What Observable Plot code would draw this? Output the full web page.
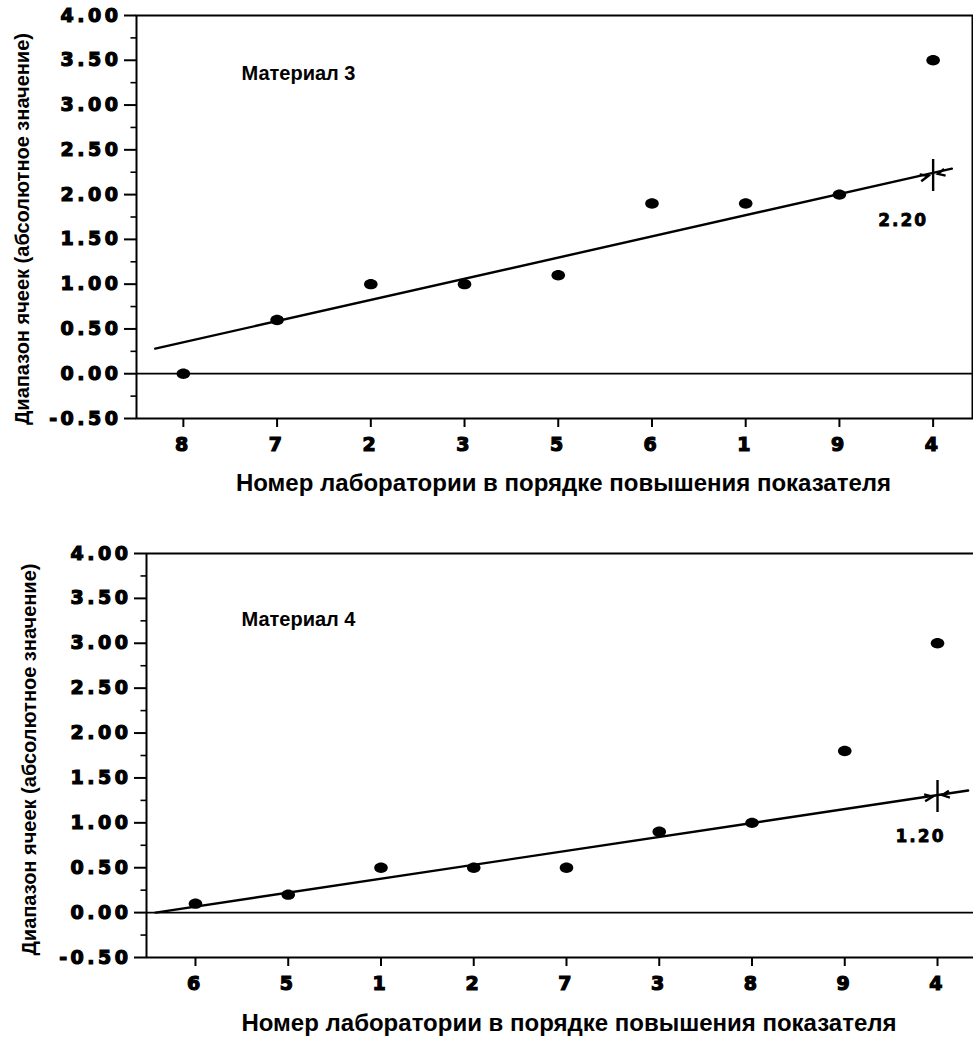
<!DOCTYPE html>
<html><head><meta charset="utf-8">
<script src="https://cdn.jsdelivr.net/npm/d3@7"></script>
<script src="https://cdn.jsdelivr.net/npm/@observablehq/plot@0.6"></script>
<style>
body{margin:0;background:#fff;}
#chart{width:973px;}
#chart svg{display:block;background:#fff;font-family:"Liberation Sans",Arial,sans-serif;color:#000;}
#chart [aria-label^="y-axis"] text, #chart [aria-label^="x-axis"] text{
  font-family:"DejaVu Sans",sans-serif;font-weight:bold;font-size:19px;letter-spacing:3.5px;
  stroke:#000;stroke-width:1.2px;fill:#000;}
#chart [aria-label^="y-axis"] line, #chart [aria-label^="x-axis"] line,
#chart [aria-label^="y-axis"] path, #chart [aria-label^="x-axis"] path{stroke:#000;stroke-width:2px;}
</style></head><body><div id="chart"></div>
<script>
// ---- data ----
const labsTop = ["8","7","2","3","5","6","1","9","4"];
const valsTop = [0.00, 0.60, 1.00, 1.00, 1.10, 1.90, 1.90, 2.00, 3.50];
const labsBot = ["6","5","1","2","7","3","8","9","4"];
const valsBot = [0.10, 0.20, 0.50, 0.50, 0.50, 0.90, 1.00, 1.80, 3.00];
const trendTopX = [-0.30, 8.20];
const trendTopY = [0.28, 2.29];
const trendBotX = [-0.43, 8.33];
const trendBotY = [0.00, 1.36];
const markIdx = [8, 8];
const markY = [2.22, 1.30];
const markText = ["2.20", "1.20"];
const materials = ["Материал 3", "Материал 4"];
const yTickValues = [-0.5, 0, 0.5, 1, 1.5, 2, 2.5, 3, 3.5, 4];
const yMinorValues = [-0.25, 0.25, 0.75, 1.25, 1.75, 2.25, 2.75, 3.25, 3.75];
const yTitle = "Диапазон ячеек (абсолютное значение)";
const xTitle = "Номер лаборатории в порядке повышения показателя";

const minorTick = {draw(ctx){ ctx.moveTo(-6, 0); ctx.lineTo(0, 0); }};
const ellipse = {draw(ctx){
  const rx = 6.8, ry = 5.2, k = 0.5523;
  ctx.moveTo(rx, 0);
  ctx.bezierCurveTo(rx, ry*k, rx*k, ry, 0, ry);
  ctx.bezierCurveTo(-rx*k, ry, -rx, ry*k, -rx, 0);
  ctx.bezierCurveTo(-rx, -ry*k, -rx*k, -ry, 0, -ry);
  ctx.bezierCurveTo(rx*k, -ry, rx, -ry*k, rx, 0);
  ctx.closePath();
}};
function crossSymbol(deg){
  const t = deg*Math.PI/180, ux = Math.cos(t), uy = -Math.sin(t), nx = -uy, ny = ux;
  return {draw(ctx){
    ctx.moveTo(0, -16); ctx.lineTo(0, 16);
    const arrow = (tipD, backD) => {
      const tx = tipD*ux, ty = tipD*uy, bx = backD*ux, by = backD*uy;
      ctx.moveTo(bx + 3.5*nx, by + 3.5*ny); ctx.lineTo(tx, ty); ctx.lineTo(bx - 3.5*nx, by - 3.5*ny);
    };
    arrow(-5, -13); arrow(5, 12);
  }};
}

function panel(o){
  const idx = d3.range(o.labs.length);
  const pts = idx.map(i => ({x: i, y: o.vals[i]}));
  const trend = o.trendX.map((x, k) => ({x, y: o.trendY[k]}));
  const mark = [{x: o.markIdx, y: o.markY, t: o.markText}];
  const borders = o.frame ? [Plot.frame({stroke: "#000", strokeWidth: 2})]
    : [Plot.ruleY([o.yDom[0], o.yDom[1]], {stroke: "#000", strokeWidth: 2}),
       Plot.ruleX([o.xDom[0]], {stroke: "#000", strokeWidth: 2})];
  return Plot.plot({
    width: 973, height: o.height,
    marginLeft: o.ml, marginRight: o.mr, marginTop: o.mt, marginBottom: o.mb,
    x: {domain: o.xDom, ticks: idx, tickFormat: i => o.labs[i], tickSize: 9, tickPadding: 10, label: null},
    y: {domain: o.yDom, ticks: yTickValues, tickFormat: d => d.toFixed(2), tickSize: 12, tickPadding: 3, label: null},
    marks: [
      ...borders,
      Plot.ruleY([0], {stroke: "#000", strokeWidth: 1.8}),
      Plot.dot(yMinorValues, {y: d => d, frameAnchor: "left", symbol: minorTick, stroke: "#000", fill: "none", strokeWidth: 1.6}),
      Plot.line(trend, {x: "x", y: "y", stroke: "#000", strokeWidth: 2.4}),
      Plot.dot(pts, {x: "x", y: "y", symbol: ellipse, fill: "#000", stroke: "none"}),
      Plot.dot(mark, {x: "x", y: "y", symbol: crossSymbol(o.angle), stroke: "#000", fill: "none", strokeWidth: 2.4}),
      Plot.text(mark, {x: "x", y: "y", text: "t", dx: o.labDx, dy: o.labDy, fontFamily: "DejaVu Sans", fontWeight: "bold", fontSize: 17, fill: "#000", stroke: "#000", strokeWidth: 0.8}),
      Plot.text([o.material], {frameAnchor: "top-left", dx: o.matDx, dy: o.matDy, lineAnchor: "middle", textAnchor: "start", fontFamily: "Liberation Sans", fontWeight: "bold", fontSize: 20, fill: "#000"}),
      Plot.text([xTitle], {frameAnchor: "bottom", dx: o.xtDx, dy: o.xtDy, lineAnchor: "middle", textAnchor: "middle", fontFamily: "Liberation Sans", fontWeight: "bold", fontSize: 24, fill: "#000"}),
      Plot.text([yTitle], {frameAnchor: "left", rotate: -90, dx: o.ytDx, dy: o.ytDy, lineAnchor: "middle", textAnchor: "middle", fontFamily: "Liberation Sans", fontWeight: "bold", fontSize: 20, fill: "#000"})
    ]
  });
}

const topPanel = panel({
  labs: labsTop, vals: valsTop, trendX: trendTopX, trendY: trendTopY,
  markIdx: markIdx[0], markY: markY[0], markText: markText[0], material: materials[0],
  height: 500, ml: 136, mr: 1, mt: 15, mb: 82, xDom: [-0.5, 8.42], yDom: [-0.5, 4],
  frame: true, angle: 12.7, labDx: -30, labDy: 46, matDx: 105, matDy: 58,
  xtDx: 9, xtDy: 65, ytDx: -114, ytDy: 12
});
const botPanel = panel({
  labs: labsBot, vals: valsBot, trendX: trendBotX, trendY: trendBotY,
  markIdx: markIdx[1], markY: markY[1], markText: markText[1], material: materials[1],
  height: 540, ml: 146, mr: 0, mt: 53, mb: 83, xDom: [-0.528, 8.388], yDom: [-0.5, 4],
  frame: false, angle: 8.5, labDx: -17, labDy: 41, matDx: 95, matDy: 66,
  xtDx: 9, xtDy: 66, ytDx: -117, ytDy: 4
});
for (const svg of [topPanel, botPanel]) {
  d3.select(svg).selectAll("text").filter(function(){ return /^\d\.\d\d$/.test(this.textContent) && !this.closest('[aria-label^="y-axis"]'); })
    .attr("letter-spacing", "2px");
  document.getElementById("chart").appendChild(svg);
}
</script></body></html>
